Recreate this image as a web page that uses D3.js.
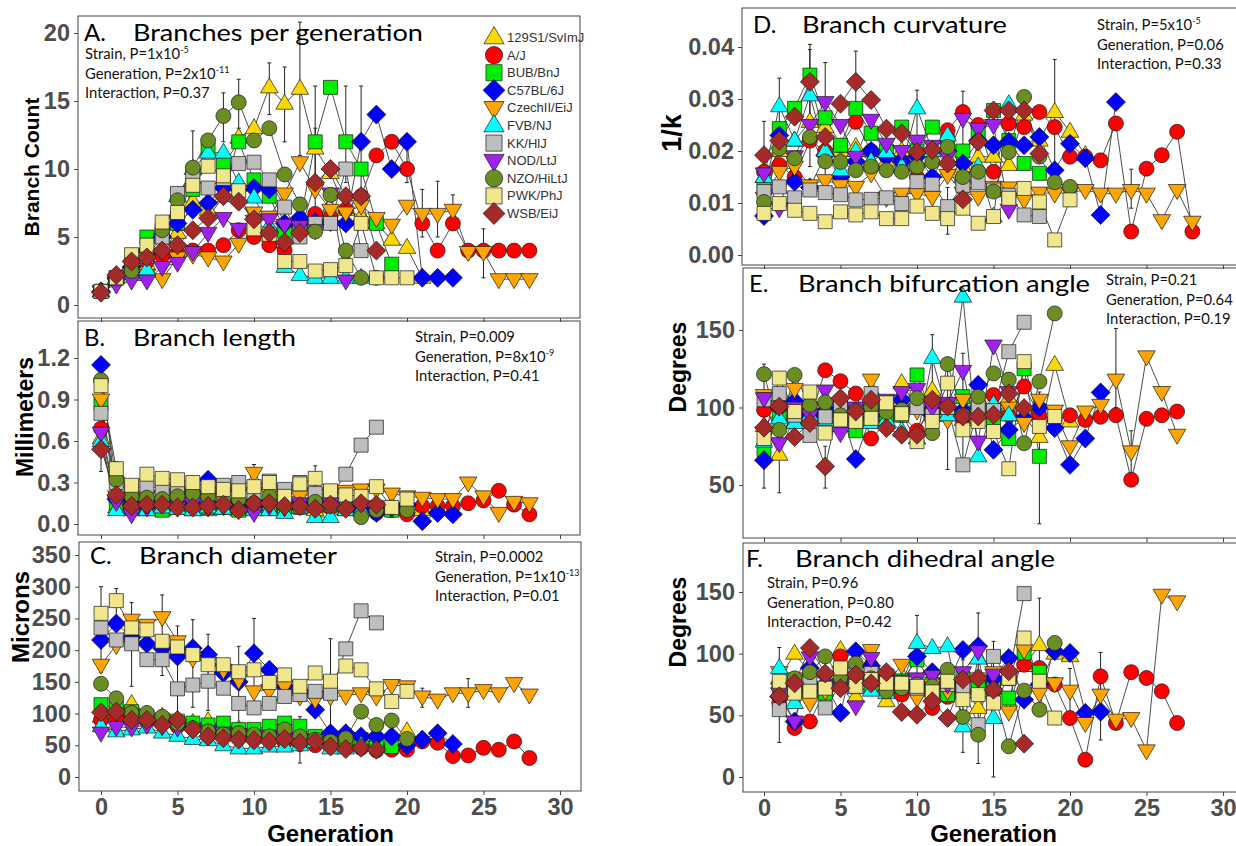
<!DOCTYPE html>
<html>
<head>
<meta charset="utf-8">
<script src="https://cdn.jsdelivr.net/npm/d3@7"></script>
<style>
  body { margin: 0; background: #fff; }
  svg { display: block; }
</style>
</head>
<body>
<svg id="chart" width="1236" height="846"></svg>
<script>
// strains, in legend / drawing order
const strains = ["129S1/SvImJ", "A/J", "BUB/BnJ", "C57BL/6J", "CzechII/EiJ", "FVB/NJ",
                 "KK/HlJ", "NOD/LtJ", "NZO/HiLtJ", "PWK/PhJ", "WSB/EiJ"];
const strainColors = ["#FFD700", "#FF0000", "#00EE00", "#0000FF", "#FFA500", "#00FFFF",
                      "#BEBEBE", "#A020F0", "#6B8E23", "#F0E68C", "#A52A2A"];
const strainShapes = ["up", "circle", "square", "diamond", "down", "up",
                      "square", "down", "circle", "square", "diamond"];

const generationTicks = [0, 5, 10, 15, 20, 25, 30];

// A. branches per generation (index = generation)
const branchCount = [
  [1, 2, 2.5, 3, 4, 5.3, 7.6, 7, 8, 12.3, 13, 16, 14.8, 15.9, 11.5, 9.7, 7, 6.5, 6, 4.8, 4.2, 2],
  [1, 1.8, 2.6, 3.2, 3.6, 3.8, 4, 4, 4.4, 5.5, 5, 4.4, 4, 5.8, 6.7, 6.5, 7, 8, 11, 12, 10, 6, 4, 6, 4, 4, 4, 4, 4],
  [1, 2, 3, 5, 5.5, 6, 8.5, 11.4, 10.3, 12, 9.2, 8, 5.5, 6, 12, 16, 12, 10, 6, 3],
  [1, 2, 2.8, 4, 5, 6, 7, 7.5, 8.6, 8.5, 8.6, 8.5, 6, 6.4, 6.1, 6.1, 6, 12, 14, 10, 12, 2, 2, 2],
  [1, 1.8, 2, 2.2, 1.9, 3.5, 3.7, 3.5, 3.2, 4.5, 6.8, 6.5, 8.2, 10.5, 8.5, 7, 6.8, 7.3, 6.4, 5.9, 7.3, 6.7, 6.7, 7, 3.9, 3.9, 1.9, 1.9, 1.9],
  [1, 2, 2.3, 2.6, 5, 8, 10, 11.2, 11.2, 9, 7.9, 5.8, 2.8, 2.2, 2, 2, 2, 2],
  [1, 2, 3, 3.6, 5, 8.2, 9.4, 8.6, 9.3, 10.4, 10.5, 9.2, 7.2, 5, 6, 6, 10, 4],
  [1, 1.5, 1.8, 1.8, 2.8, 3.1, 3.9, 5.3, 6.4, 5.6, 6.2, 6.3, 5.9, 5.8, 5.5, 8.2, 1.8],
  [1, 2, 2.5, 4, 5.5, 7.7, 10.1, 12.1, 13.9, 14.9, 12.1, 13, 9.6, 7.4, 5.4, 8.1, 4, 2, 2],
  [1, 2, 3.7, 4.4, 6.1, 6.8, 8.8, 10.2, 9.5, 8.4, 5.6, 5.2, 3.2, 3.2, 2.5, 2.6, 2.9, 6, 2, 2, 2],
  [0.9, 2.2, 3.2, 3.5, 4, 4.4, 5.5, 6.4, 8, 7.6, 6.3, 5.3, 4.6, 5.3, 9, 10, 8, 8, 4]
];

// B. branch length, mm
const branchLength = [
  [0.62, 0.12, 0.1, 0.1, 0.1, 0.12, 0.1, 0.1, 0.12, 0.1, 0.12, 0.1, 0.12, 0.12, 0.1, 0.12, 0.1, 0.12, 0.1, 0.12, 0.1, 0.1],
  [0.69, 0.18, 0.15, 0.14, 0.16, 0.15, 0.14, 0.13, 0.15, 0.14, 0.13, 0.12, 0.14, 0.13, 0.12, 0.12, 0.13, 0.1, 0.08, 0.1, 0.07, 0.13, 0.13, 0.13, 0.15, 0.17, 0.24, 0.14, 0.07],
  [0.87, 0.15, 0.12, 0.12, 0.1, 0.12, 0.15, 0.12, 0.12, 0.1, 0.12, 0.13, 0.12, 0.12, 0.15, 0.14, 0.12, 0.12, 0.12, 0.1],
  [1.15, 0.18, 0.14, 0.13, 0.15, 0.14, 0.15, 0.32, 0.14, 0.15, 0.14, 0.15, 0.13, 0.15, 0.14, 0.13, 0.12, 0.1, 0.08, 0.12, 0.14, 0.02, 0.08, 0.07],
  [0.9, 0.2, 0.18, 0.2, 0.2, 0.22, 0.2, 0.2, 0.2, 0.22, 0.37, 0.22, 0.2, 0.2, 0.22, 0.22, 0.24, 0.25, 0.25, 0.22, 0.2, 0.19, 0.18, 0.18, 0.3, 0.2, 0.08, 0.16, 0.15],
  [0.6, 0.1, 0.12, 0.1, 0.12, 0.11, 0.1, 0.12, 0.11, 0.12, 0.1, 0.1, 0.08, 0.12, 0.05, 0.05, 0.1, 0.1],
  [0.8, 0.3, 0.25, 0.28, 0.25, 0.24, 0.22, 0.25, 0.28, 0.3, 0.22, 0.31, 0.25, 0.3, 0.22, 0.2, 0.36, 0.57, 0.7],
  [0.66, 0.16, 0.07, 0.12, 0.14, 0.12, 0.15, 0.12, 0.13, 0.14, 0.08, 0.13, 0.12, 0.15, 0.14, 0.15, 0.12],
  [1.04, 0.32, 0.2, 0.19, 0.18, 0.2, 0.22, 0.2, 0.17, 0.18, 0.15, 0.2, 0.16, 0.12, 0.16, 0.13, 0.12, 0.05, 0.1, 0.12, 0.1],
  [1.0, 0.40, 0.28, 0.36, 0.33, 0.32, 0.30, 0.27, 0.25, 0.24, 0.27, 0.30, 0.20, 0.29, 0.33, 0.24, 0.21, 0.20, 0.27, 0.12, 0.18],
  [0.54, 0.21, 0.13, 0.14, 0.14, 0.12, 0.12, 0.13, 0.14, 0.1, 0.15, 0.15, 0.13, 0.13, 0.11, 0.14, 0.11, 0.15, 0.14]
];

// C. branch diameter, microns
const branchDiameter = [
  [95, 105, 115, 98, 95, 90, 85, 88, 80, 75, 70, 68, 65, 62, 60, 58, 55, 57, 55, 50, 72],
  [90, 95, 92, 88, 85, 80, 78, 72, 65, 62, 60, 58, 55, 52, 50, 50, 48, 46, 42, 43, 43, 56, 54, 33, 34, 46, 43, 56, 30],
  [114, 109, 103, 95, 90, 88, 85, 82, 85, 75, 75, 80, 85, 80, 64, 54, 59, 59, 54, 48],
  [216, 242, 220, 210, 203, 190, 203, 193, 164, 150, 195, 169, 143, 135, 106, 69, 69, 64, 64, 64, 50, 59, 69, 52],
  [177, 208, 248, 240, 252, 214, 187, 180, 169, 153, 135, 137, 143, 127, 122, 127, 128, 132, 127, 145, 143, 127, 122, 132, 132, 137, 132, 148, 130],
  [80, 72, 75, 78, 70, 65, 60, 58, 50, 45, 45, 48, 48, 50, 55, 45, 45, 50],
  [235, 216, 210, 185, 185, 139, 145, 151, 140, 116, 109, 116, 127, 130, 135, 132, 202, 262, 243],
  [70, 79, 78, 82, 80, 78, 75, 72, 70, 68, 65, 65, 62, 60, 58, 55, 55],
  [147, 124, 101, 101, 95, 85, 77, 72, 67, 69, 67, 64, 75, 64, 59, 56, 61, 103, 82, 89, 60],
  [258, 278, 235, 232, 214, 205, 193, 177, 177, 166, 169, 149, 161, 143, 164, 151, 175, 169, 139, 119, 135],
  [102, 103, 90, 90, 82, 90, 75, 64, 61, 59, 58, 56, 60, 54, 56, 48, 44, 46, 43]
];

// D. branch curvature, 1/k
const curvature = [
  [0.015, 0.02, 0.022, 0.0256, 0.0246, 0.02, 0.0208, 0.02, 0.018, 0.02, 0.018, 0.02, 0.016, 0.017, 0.0189, 0.0189, 0.0173, 0.027, 0.022, 0.0275, 0.0237, 0.0192],
  [0.016, 0.0173, 0.015, 0.022, 0.02, 0.021, 0.0256, 0.02, 0.019, 0.018, 0.015, 0.02, 0.024, 0.0275, 0.025, 0.016, 0.0253, 0.0246, 0.0275, 0.0246, 0.0189, 0.0189, 0.0182, 0.0253, 0.0045, 0.0166, 0.0192, 0.0237, 0.0045],
  [0.013, 0.0243, 0.0282, 0.0346, 0.0264, 0.0211, 0.0282, 0.0234, 0.02, 0.0246, 0.02, 0.0246, 0.0218, 0.02, 0.0234, 0.0278, 0.022, 0.0176, 0.0157],
  [0.0075, 0.023, 0.0141, 0.013, 0.0192, 0.015, 0.018, 0.02, 0.019, 0.018, 0.019, 0.015, 0.02, 0.0176, 0.022, 0.0211, 0.0218, 0.0211, 0.0227, 0.0163, 0.0214, 0.0186, 0.0077, 0.0294],
  [0.011, 0.016, 0.017, 0.0134, 0.0144, 0.0134, 0.0131, 0.0157, 0.011, 0.0118, 0.0118, 0.0112, 0.0154, 0.012, 0.0112, 0.0131, 0.013, 0.0106, 0.012, 0.0118, 0.012, 0.0125, 0.0118, 0.0118, 0.0125, 0.0118, 0.0067, 0.0125, 0.0064],
  [0.015, 0.0286, 0.022, 0.0307, 0.02, 0.0163, 0.02, 0.018, 0.0198, 0.017, 0.0282, 0.02, 0.023, 0.015, 0.017, 0.0074, 0.029],
  [0.0122, 0.0131, 0.011, 0.0125, 0.012, 0.0116, 0.0106, 0.0107, 0.011, 0.0099, 0.0141, 0.0136, 0.0093, 0.0134, 0.0139, 0.0125, 0.0115, 0.0077, 0.0074],
  [0.0157, 0.009, 0.019, 0.025, 0.0294, 0.025, 0.0189, 0.026, 0.0214, 0.02, 0.022, 0.021, 0.019, 0.0262, 0.0243, 0.025, 0.0087],
  [0.0102, 0.0205, 0.0186, 0.0227, 0.018, 0.0179, 0.0163, 0.017, 0.0163, 0.016, 0.017, 0.0179, 0.0208, 0.015, 0.016, 0.0122, 0.0198, 0.0304, 0.0189, 0.014, 0.0131],
  [0.008, 0.0099, 0.0086, 0.008, 0.0064, 0.0083, 0.0077, 0.0083, 0.007, 0.007, 0.0094, 0.008, 0.007, 0.009, 0.0061, 0.0074, 0.0109, 0.0128, 0.0102, 0.0029, 0.0106],
  [0.0192, 0.022, 0.0266, 0.0333, 0.0227, 0.0291, 0.0333, 0.0298, 0.0243, 0.0234, 0.0198, 0.0202, 0.0176, 0.0107, 0.0218, 0.0278, 0.0278, 0.0278, 0.0195]
];

// E. bifurcation angle, degrees
const bifurcation = [
  [88, 69.5, 95, 97, 100, 101, 92, 100, 95, 115.7, 100, 111, 95, 92, 97, 100, 106, 95, 81, 127.5, 91],
  [98.5, 100, 95, 92, 124, 117, 109, 80, 90, 95, 85, 100, 95, 92, 98, 108, 95, 113.5, 95, 92, 95, 92, 94, 95, 53.4, 92.7, 95, 97.4],
  [72.7, 95, 92, 98, 95, 100, 85, 97, 93, 95, 121, 95, 98, 107, 100, 90, 80, 125, 68.5],
  [66, 100, 104, 95, 98, 100, 66.7, 95, 100, 105, 100, 95, 100, 98, 114.6, 72.7, 85.6, 93, 100, 86.7, 63, 80, 109.7],
  [108, 100, 112, 95, 100, 88, 92, 118, 100, 96, 98, 90, 92, 105, 95, 99, 100, 90, 105, 98, 75, 97.4, 101.7, 118, 71.7, 133, 110, 82.4],
  [78, 93, 90, 95, 92, 88, 95, 90, 92, 85, 80, 132, 95, 171.5, 68.5, 102, 95],
  [105, 109, 95, 82, 94, 100, 95, 109, 100, 97, 100, 95, 100, 63, 100, 98, 136, 155],
  [106, 77, 100, 95, 111, 83.5, 100, 98, 105, 110, 112, 100, 103, 123.6, 78, 140, 110],
  [121.5, 85.6, 121, 101.7, 103.4, 95, 98, 100, 97, 98.5, 106, 83.5, 128, 95, 107, 122, 118, 77, 116.7, 160.7],
  [80, 119, 97.4, 110, 83.5, 92, 91, 93, 103, 96, 78, 91, 115.7, 85.6, 91, 84.5, 60.5, 129.6, 87.8, 94.2],
  [87, 100.6, 81, 90, 62, 106, 97.4, 105, 86.7, 82.4, 82.4, 105, 100.6, 94.2, 94.2, 95.3, 109, 99.6]
];

// F. dihedral angle, degrees (no value at generation 0)
const dihedral = [
  [null, 80, 100, 85, 70, 103, 65, 78, 61.4, 75, 75, 70, 80, 72, 56, 75, 80, 90, 107, 100, 98],
  [null, 60, 39.7, 45, 70, 97.8, 80, 90, 70, 66.8, 75, 56, 65, 70, 78, 75, 80, 91, 88.4, 75, 47.8, 14, 81.6, 43.8, 85, 80.3, 69.5, 43.8],
  [null, 70, 75, 72, 68, 75, 80, 75, 82, 78, 95, 75, 66.8, 80, 75, 72, 64, 100.6, 85],
  [null, 65, 45, 88.4, 75, 52, 102, 90, 80, 75, 97.8, 85, 75, 103, 106, 80, 96.5, 62.7, 75, 102, 100.6, 52, 53],
  [null, 85, 80, 60, 70, 85, 75, 103, 75, 91, 64, 75, 70, 75, 80, 85, 53, 103, 68, 76, 70, 43.8, 66.8, 46.5, 47.8, 21.6, 147.8, 142.4],
  [null, 88.4, 60, 70, 77.6, 80, 72, 70, 68, 75, 108.7, 104.6, 106, 41, 96, 47.8],
  [null, 54.6, 70, 79, 56, 75, 80, 84, 80, 75, 72, 70, 75, 72, 42.4, 97.8, 80, 148.7],
  [null, 68, 45, 97, 80, 75, 57.3, 96.5, 80, 78, 80, 82, 75, 85, 102, 83],
  [null, 75, 80, 85, 97.8, 81, 92, 80, 69.5, 72, 75, 73.5, 87, 48.7, 34.3, 70, 24.9, 70, 54.6, 108.7],
  [null, 77.6, 68, 69.5, 72, 88.4, 73.5, 79, 76, 76, 73.5, 69, 77.6, 62.7, 66.8, 60, 80, 112.7, 77.6, 47.8],
  [null, 65.4, 76, 104.6, 84, 72, 83, 76, 85, 52.7, 50.5, 61.4, 47.8, 79, 80.3, 70.8, 85.7, 27]
];

// visible error bars: [strain, generation, low, high]
const errCount = [[0,11,14,17.8],[0,12,12,17.5],[0,13,11,20.8],[8,8,12,15.6],[8,9,13,16.6],[2,14,8,16.1],
  [2,16,9,16.1],[2,17,7,16.1],[3,20,9,12.3],[4,21,5,8.5],[4,22,5,9.1],[4,23,6,8.1],[1,25,2,5.6],[9,6,7,12.8],[6,14,5,13]];
const errLength = [[9,10,0.22,0.43],[9,14,0.28,0.42],[4,24,0.28,0.33],[6,1,0.25,0.45],[10,0,0.38,0.6]];
const errDiameter = [[6,0,165,300],[9,1,250,297],[6,2,143,275],[9,4,160,287],[6,5,95,238],[6,6,110,248],
  [6,7,105,225],[6,9,80,206],[3,10,140,250],[9,15,40,218],[7,13,22,95],[4,24,110,155],[4,21,110,140]];
const errCurvature = [[0,3,0.017,0.0405],[2,3,0.025,0.0395],[10,6,0.026,0.0392],[10,4,0.012,0.037],[5,1,0.02,0.034],
  [10,0,0.01,0.0257],[0,19,0.017,0.0376],[5,10,0.022,0.0317],[1,13,0.02,0.0315],[9,12,0.004,0.013],[4,24,0.009,0.0165]];
const errBifurcation = [[4,23,100,151],[2,18,25,110],[8,0,48,128],[0,1,45,95],[10,4,48,75],[5,11,100,147],
  [4,22,90,108],[1,24,50,85],[3,13,60,135],[2,12,60,128]];
const errDihedral = [[6,15,0,110],[1,18,55,145],[8,14,11,133],[5,10,70,131],[1,22,30,101],[4,20,45,88],
  [10,13,20,95],[9,1,28,105]];

const statsA = [["Strain, P=1x10", "-5"], ["Generation, P=2x10", "-11"], ["Interaction, P=0.37", ""]];
const statsB = [["Strain, P=0.009", ""], ["Generation, P=8x10", "-9"], ["Interaction, P=0.41", ""]];
const statsC = [["Strain, P=0.0002", ""], ["Generation, P=1x10", "-13"], ["Interaction, P=0.01", ""]];
const statsD = [["Strain, P=5x10", "-5"], ["Generation, P=0.06", ""], ["Interaction, P=0.33", ""]];
const statsE = [["Strain, P=0.21", ""], ["Generation, P=0.64", ""], ["Interaction, P=0.19", ""]];
const statsF = [["Strain, P=0.96", ""], ["Generation, P=0.80", ""], ["Interaction, P=0.42", ""]];

const panels = [
  {key: "A", values: branchCount, errors: errCount, frame: [78, 16, 580, 318], xRange: [101, 560],
   yDomain: [0, 20], yRange: [305, 33], yTicks: [0, 5, 10, 15, 20], fmt: d3.format("d"), xLabels: false,
   letter: "A.", title: "Branches per generation", titleAt: [84, 133, 41], titleLen: 290,
   stats: statsA, statsAt: [85, 59], yTitle: "Branch Count", yTitleAt: [31, 167], yTitleSize: 21},
  {key: "B", values: branchLength, errors: errLength, frame: [78, 321, 580, 535], xRange: [101, 560],
   yDomain: [0, 1.2], yRange: [524, 358], yTicks: [0, 0.3, 0.6, 0.9, 1.2], fmt: d3.format(".1f"), xLabels: false,
   letter: "B.", title: "Branch length", titleAt: [84, 133, 346], titleLen: 163,
   stats: statsB, statsAt: [415, 342], yTitle: "Millimeters", yTitleAt: [25, 417], yTitleSize: 23},
  {key: "C", values: branchDiameter, errors: errDiameter, frame: [79, 542, 581, 791], xRange: [101, 560],
   yDomain: [0, 350], yRange: [777, 555], yTicks: [0, 50, 100, 150, 200, 250, 300, 350], fmt: d3.format("d"), xLabels: true,
   letter: "C.", title: "Branch diameter", titleAt: [90, 139, 564], titleLen: 198,
   stats: statsC, statsAt: [435, 562], yTitle: "Microns", yTitleAt: [20, 617], yTitleSize: 24},
  {key: "D", values: curvature, errors: errCurvature, frame: [742, 8, 1245, 265], xRange: [764, 1223],
   yDomain: [0, 0.04], yRange: [255, 47], yTicks: [0, 0.01, 0.02, 0.03, 0.04], fmt: d3.format(".2f"), xLabels: false,
   letter: "D.", title: "Branch curvature", titleAt: [753, 802, 33], titleLen: 205,
   stats: statsD, statsAt: [1097, 30], yTitle: "1/k", yTitleAt: [672, 133], yTitleSize: 27},
  {key: "E", values: bifurcation, errors: errBifurcation, frame: [743, 268, 1245, 538], xRange: [764, 1223],
   yDomain: [50, 150], yRange: [485, 330], yTicks: [50, 100, 150], fmt: d3.format("d"), xLabels: false,
   letter: "E.", title: "Branch bifurcation angle", titleAt: [749, 798, 292], titleLen: 292,
   stats: statsE, statsAt: [1106, 285], yTitle: "Degrees", yTitleAt: [678, 367], yTitleSize: 23},
  {key: "F", values: dihedral, errors: errDihedral, frame: [743, 543, 1245, 792], xRange: [764, 1223],
   yDomain: [0, 150], yRange: [777, 592], yTicks: [0, 50, 100, 150], fmt: d3.format("d"), xLabels: true,
   letter: "F.", title: "Branch dihedral angle", titleAt: [746, 795, 567], titleLen: 260,
   stats: statsF, statsAt: [767, 588], yTitle: "Degrees", yTitleAt: [678, 622], yTitleSize: 23}
];

const titleFont = "Lato, 'Open Sans', sans-serif";
const axisFont = "'Liberation Sans', Arial, sans-serif";

var shapePath = function(shape, k) {
  k = k || 1;
  if (shape === "circle") {
    const r = 7.5 * k;
    return "M" + r + ",0A" + r + "," + r + " 0 1,1 " + (-r) + ",0A" + r + "," + r + " 0 1,1 " + r + ",0Z";
  }
  if (shape === "square") {
    const h = 7 * k;
    return "M" + (-h) + "," + (-h) + "H" + h + "V" + h + "H" + (-h) + "Z";
  }
  if (shape === "diamond") {
    const h = 9.5 * k;
    return "M0," + (-h) + "L" + h + ",0L0," + h + "L" + (-h) + ",0Z";
  }
  const w = 8.8 * k, t = 9.5 * k, b = 5.5 * k;
  if (shape === "up") return "M0," + (-t) + "L" + w + "," + b + "L" + (-w) + "," + b + "Z";
  return "M0," + t + "L" + w + "," + (-b) + "L" + (-w) + "," + (-b) + "Z";
}

const svg = d3.select("#chart");
svg.append("rect").attr("width", 1236).attr("height", 846).attr("fill", "#fff");
const defs = svg.append("defs");

panels.forEach(function(p) {
  const [fx0, fy0, fx1, fy1] = p.frame;
  const x = d3.scaleLinear().domain([0, 30]).range(p.xRange);
  const y = d3.scaleLinear().domain(p.yDomain).range(p.yRange);

  defs.append("clipPath").attr("id", "clip-" + p.key)
    .append("rect")
      .attr("x", fx0).attr("y", fy0)
      .attr("width", fx1 - fx0).attr("height", fy1 - fy0);

  const g = svg.append("g").attr("class", "panel panel-" + p.key);
  const plot = g.append("g").attr("clip-path", "url(#clip-" + p.key + ")");

  const series = p.values.map(function(vals, i) {
    return vals.map(function(v, gen) {
      return {strain: i, gen: gen, value: v};
    }).filter(function(d) { return d.value !== null; });
  });

  const line = d3.line()
    .x(function(d) { return x(d.gen); })
    .y(function(d) { return y(d.value); });

  plot.selectAll(".series-line")
    .data(series)
    .join("path")
      .attr("class", "series-line")
      .attr("fill", "none")
      .attr("stroke", "#3a3a3a")
      .attr("stroke-width", 0.9)
      .attr("d", line);

  const bars = plot.selectAll(".err")
    .data(p.errors)
    .join("g")
      .attr("class", "err")
      .attr("stroke", "#222")
      .attr("stroke-width", 1);
  bars.append("line")
    .attr("x1", function(d) { return x(d[1]); })
    .attr("x2", function(d) { return x(d[1]); })
    .attr("y1", function(d) { return y(d[2]); })
    .attr("y2", function(d) { return y(d[3]); });
  [2, 3].forEach(function(k) {
    bars.append("line")
      .attr("x1", function(d) { return x(d[1]) - 2; })
      .attr("x2", function(d) { return x(d[1]) + 2; })
      .attr("y1", function(d) { return y(d[k]); })
      .attr("y2", function(d) { return y(d[k]); });
  });

  plot.selectAll(".pts")
    .data(series)
    .join("g")
      .attr("class", "pts")
    .selectAll("path")
    .data(function(d) { return d; })
    .join("path")
      .attr("transform", function(d) { return "translate(" + x(d.gen) + "," + y(d.value) + ")"; })
      .attr("d", function(d) { return shapePath(strainShapes[d.strain]); })
      .attr("fill", function(d) { return strainColors[d.strain]; })
      .attr("stroke", "#1a1a1a")
      .attr("stroke-width", 0.7);

  // frame
  g.append("rect")
    .attr("x", fx0).attr("y", fy0)
    .attr("width", fx1 - fx0).attr("height", fy1 - fy0)
    .attr("fill", "none")
    .attr("stroke", "#444")
    .attr("stroke-width", 1);

  // axes
  const yAxis = g.append("g")
    .attr("transform", "translate(" + fx0 + ",0)")
    .call(d3.axisLeft(y).tickValues(p.yTicks).tickFormat(p.fmt).tickSize(4).tickPadding(4));
  const xAxis = g.append("g")
    .attr("transform", "translate(0," + fy1 + ")")
    .call(d3.axisBottom(x).tickValues(generationTicks)
      .tickFormat(p.xLabels ? d3.format("d") : function() { return ""; })
      .tickSize(4).tickPadding(3));
  [yAxis, xAxis].forEach(function(ax) {
    ax.select(".domain").remove();
    ax.selectAll(".tick line").attr("stroke", "#444");
    ax.selectAll(".tick text")
      .attr("fill", "#4d4d4d")
      .style("font-family", axisFont)
      .style("font-weight", "bold")
      .style("font-size", "23.5px");
  });

  // titles
  g.append("text")
    .attr("x", p.titleAt[0]).attr("y", p.titleAt[2])
    .style("font-family", titleFont).style("font-size", "24px")
    .text(p.letter);
  g.append("text")
    .attr("x", p.titleAt[1]).attr("y", p.titleAt[2])
    .attr("textLength", p.titleLen).attr("lengthAdjust", "spacingAndGlyphs")
    .style("font-family", titleFont).style("font-size", "24px")
    .text(p.title);

  // statistics
  p.stats.forEach(function(s, i) {
    const t = g.append("text")
      .attr("x", p.statsAt[0]).attr("y", p.statsAt[1] + i * 19.5)
      .style("font-family", titleFont).style("font-size", "14.8px")
      .attr("fill", "#111");
    t.append("tspan").text(s[0]);
    if (s[1]) {
      t.append("tspan").attr("dy", -6).style("font-size", "9px").text(s[1]);
    }
  });

  // y title
  g.append("text")
    .attr("transform", "translate(" + p.yTitleAt[0] + "," + p.yTitleAt[1] + ") rotate(-90)")
    .attr("text-anchor", "middle")
    .attr("dominant-baseline", "central")
    .style("font-family", axisFont).style("font-weight", "bold").style("font-size", p.yTitleSize + "px")
    .text(p.yTitle);

  if (p.xLabels) {
    g.append("text")
      .attr("x", x(15)).attr("y", 842)
      .attr("text-anchor", "middle")
      .style("font-family", axisFont).style("font-weight", "bold").style("font-size", "24px")
      .text("Generation");
  }
});

// legend inside panel A
const legend = svg.append("g").attr("class", "legend");
const rows = legend.selectAll("g")
  .data(strains)
  .join("g")
    .attr("transform", function(d, i) { return "translate(494," + (37.5 + i * 17.6) + ")"; });
rows.append("path")
  .attr("d", function(d, i) { return shapePath(strainShapes[i], 1.15); })
  .attr("fill", function(d, i) { return strainColors[i]; })
  .attr("stroke", "#1a1a1a")
  .attr("stroke-width", 0.7);
rows.append("text")
  .attr("x", 13)
  .attr("dominant-baseline", "central")
  .attr("fill", "#333")
  .style("font-family", axisFont)
  .style("font-size", "13px")
  .text(function(d) { return d; });
</script>
</body>
</html>
